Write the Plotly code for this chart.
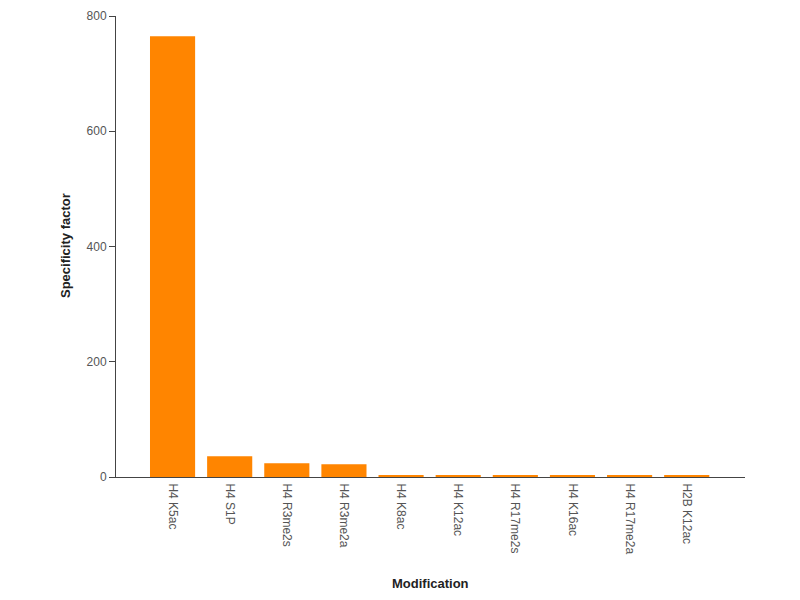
import plotly.graph_objects as go

categories = ["H4 K5ac", "H4 S1P", "H4 R3me2s", "H4 R3me2a", "H4 K8ac",
              "H4 K12ac", "H4 R17me2s", "H4 K16ac", "H4 R17me2a", "H2B K12ac"]
values = [765, 36, 24, 22, 3, 3, 3, 3, 3, 3]
y_ticks = [0, 200, 400, 600, 800]

# page body has an 8px margin; layout pixel values are compensated by it
OFF = 8
L, R, T, B = 116 - OFF, 800 - 745 + OFF, 16 - OFF, 600 - 477 + OFF

fig = go.Figure(go.Bar(x=categories, y=values, marker=dict(color="#FF8500", line=dict(width=0)),
                       width=0.79))

fig.update_layout(
    width=800, height=600,
    margin=dict(l=L, r=R, t=T, b=B, autoexpand=False),
    plot_bgcolor="white", paper_bgcolor="white",
    font=dict(family="Liberation Sans, Arial, sans-serif", size=12, color="#555"),
    showlegend=False,
    xaxis=dict(
        range=[-0.99, 10.02], tickangle=90, showline=True, linecolor="#444", linewidth=1,
        ticks="outside", ticklen=3, tickcolor="rgba(0,0,0,0)", showgrid=False, zeroline=False,
        automargin=False,
    ),
    yaxis=dict(
        range=[0, 800], tickvals=y_ticks, showline=True, linecolor="#444", linewidth=1,
        ticks="outside", ticklen=6, tickcolor="#444", showgrid=False, zeroline=False,
        automargin=False,
    ),
)
pw = 800 - L - R
ph = 600 - T - B
fig.add_annotation(text="<b>Modification</b>", xref="paper", yref="paper",
                   x=(430 - 116) / pw, y=(477 - 583) / ph, yanchor="middle",
                   showarrow=False, font=dict(size=13, color="#222"))
fig.add_annotation(text="<b>Specificity factor</b>", xref="paper", yref="paper",
                   x=(65 - 116) / pw, y=(477 - 246) / ph, xanchor="center",
                   showarrow=False, textangle=-90, font=dict(size=13, color="#222"))

fig.write_html("out.html")
